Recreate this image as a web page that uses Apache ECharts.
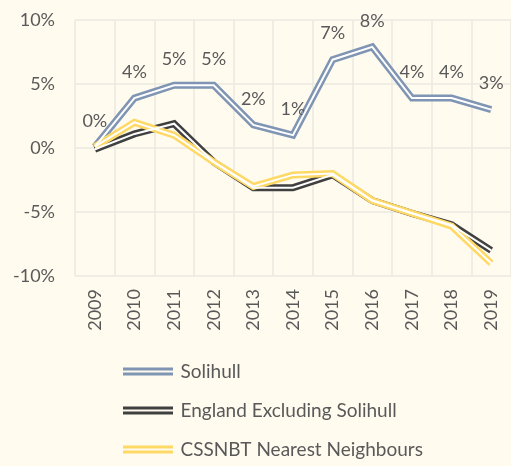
<!DOCTYPE html>
<html>
<head>
<meta charset="utf-8">
<script src="https://cdn.jsdelivr.net/npm/echarts@6/dist/echarts.min.js"></script>
<style>
  html, body { margin: 0; padding: 0; background: #fffbef; }
  #chart { width: 511px; height: 466px; }
</style>
</head>
<body>
<div id="chart"></div>
<script>
const years = ['2009', '2010', '2011', '2012', '2013', '2014', '2015', '2016', '2017', '2018', '2019'];
const solihull = [0.1, 3.9, 4.9, 4.9, 1.8, 1.0, 6.9, 7.9, 3.9, 3.9, 3.0];
const england = [-0.1, 1.1, 1.9, -1.1, -3.1, -3.1, -2.1, -4.1, -5.1, -6.0, -8.0];
const neighbours = [0.1, 2.0, 1.0, -1.1, -3.0, -2.1, -2.0, -4.1, -5.1, -6.1, -9.0];
const solihullLabels = ['0%', '4%', '5%', '5%', '2%', '1%', '7%', '8%', '4%', '4%', '3%'];

const bg = '#fffbef';
const textColor = '#595959';
const font = 'Lato';
// two strips, drawn as the legend icon for a double line
const doubleIcon = 'path://M0,0H50V3H0Z M0,5H50V8H0Z';

// double line = thick coloured stroke + thin white stroke on top
function doubleLine(name, data, color, withLabels) {
  return [
    {
      name: name,
      type: 'line',
      data: data,
      symbol: 'circle',
      symbolSize: 0,
      showSymbol: withLabels,
      lineStyle: { color: color, width: 7, join: 'miter' },
      itemStyle: { color: color },
      label: withLabels ? {
        show: true,
        position: 'top',
        distance: 17,
        fontFamily: font,
        fontSize: 18,
        color: textColor,
        formatter: p => solihullLabels[p.dataIndex]
      } : { show: false },
      z: 2
    },
    {
      name: name + ' inner',
      type: 'line',
      data: data,
      symbol: 'none',
      silent: true,
      lineStyle: { color: '#ffffff', width: 2, join: 'miter' },
      z: 3
    }
  ];
}

const chart = echarts.init(document.getElementById('chart'));
chart.setOption({
  backgroundColor: bg,
  animation: false,
  textStyle: { fontFamily: font },
  grid: { left: 75, right: 0, top: 20, bottom: 190 },
  legend: {
    orient: 'vertical',
    left: 123,
    top: 362,
    padding: 0,
    itemWidth: 51,
    itemHeight: 8,
    itemGap: 20,
    icon: doubleIcon,
    data: ['Solihull', 'England Excluding Solihull', 'CSSNBT Nearest Neighbours'],
    textStyle: { fontFamily: font, fontSize: 19, color: textColor, padding: [0, 0, 0, 2] }
  },
  xAxis: {
    type: 'category',
    data: years,
    boundaryGap: true,
    axisLine: { show: false, onZero: false },
    axisTick: { show: false },
    axisLabel: { rotate: 90, margin: 13, fontFamily: font, fontSize: 18, color: textColor },
    splitLine: { show: true, lineStyle: { color: '#ebe8e0', width: 1.5 } }
  },
  yAxis: {
    type: 'value',
    min: -10,
    max: 10,
    interval: 5,
    axisLine: { show: false },
    axisTick: { show: false },
    axisLabel: { formatter: '{value}%', margin: 20, fontFamily: font, fontSize: 18, color: textColor },
    splitLine: { lineStyle: { color: '#ebe8e0', width: 1.5 } }
  },
  series: [
    ...doubleLine('Solihull', solihull, '#7f95b3', true),
    ...doubleLine('England Excluding Solihull', england, '#404040', false),
    ...doubleLine('CSSNBT Nearest Neighbours', neighbours, '#ffd966', false)
  ]
});
</script>
</body>
</html>
